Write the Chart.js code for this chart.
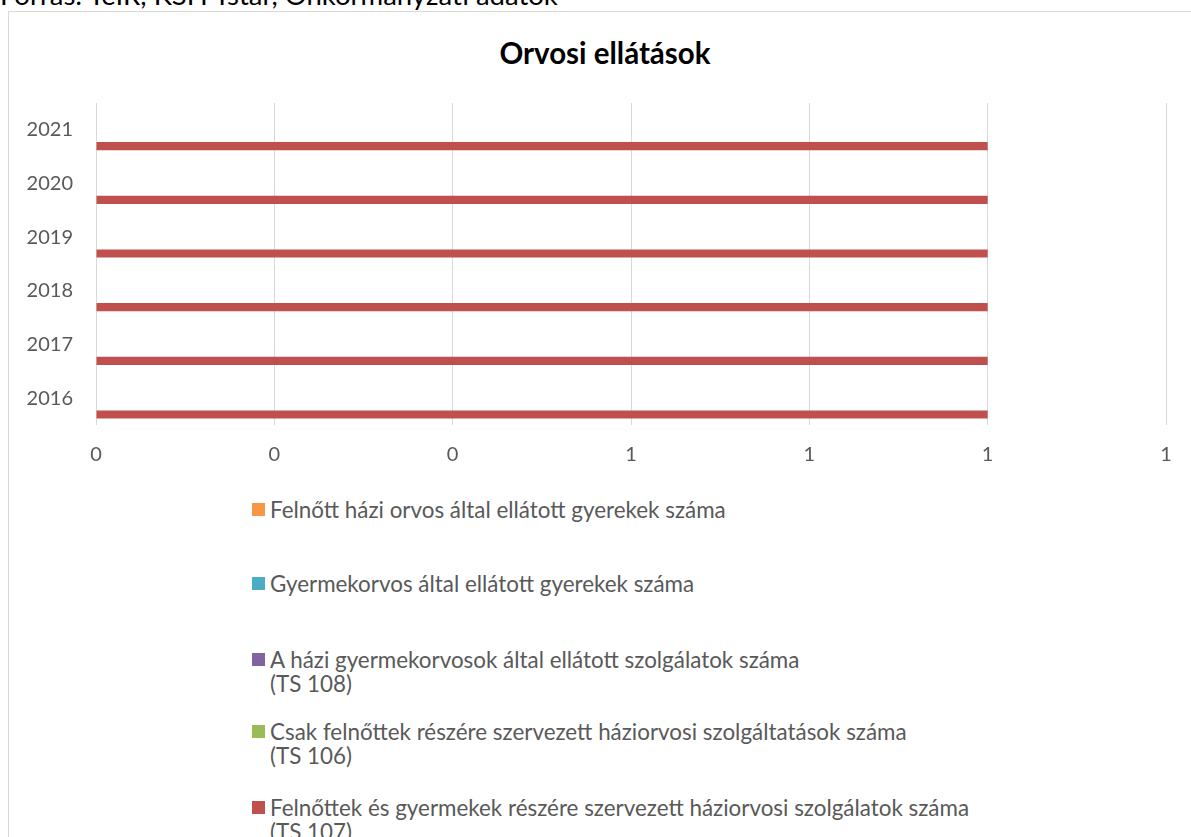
<!DOCTYPE html>
<html>
<head>
<meta charset="utf-8">
<script src="https://cdn.jsdelivr.net/npm/chart.js@4"></script>
<style>
  html, body { margin: 0; padding: 0; background: #fff; overflow: hidden; }
  body { width: 1191px; height: 837px; position: relative; font-family: Lato, "Open Sans", sans-serif; }
  #source { position: absolute; left: 0; top: -21px; font-size: 27.5px; line-height: 32px; color: #000; white-space: nowrap; }
  #frame { position: absolute; left: 8px; top: 11px; width: 1200px; height: 900px; border: 1px solid #d9d9d9; box-sizing: border-box; }
  #title { position: absolute; left: 405px; width: 400px; top: 36px; text-align: center; font-weight: bold; font-size: 29.5px; line-height: 34px; color: #000; }
  #wrap { position: absolute; left: 0; top: 0; width: 1191px; height: 480px; }
  #legend { position: absolute; left: 0; top: 0; }
  .item { position: absolute; left: 252px; font-size: 22.4px; line-height: 24px; color: #595959; white-space: nowrap; }
  .item .box { position: absolute; left: 0; top: 5px; width: 13px; height: 13px; }
  .item .txt { margin-left: 18px; }
</style>
</head>
<body>
<div id="source">Forrás: TeIR, KSH Tstar, Önkormányzati adatok</div>
<div id="frame"></div>
<div id="title">Orvosi ellátások</div>
<div id="wrap"><canvas id="chart" width="1191" height="480"></canvas></div>
<div id="legend"></div>
<script>
const years = ['2016', '2017', '2018', '2019', '2020', '2021'];

const seriesNames = [
    'Felnőtt házi orvos által ellátott gyerekek száma',
    'Gyermekorvos által ellátott gyerekek száma',
    'A házi gyermekorvosok által ellátott szolgálatok száma\n(TS 108)',
    'Csak felnőttek részére szervezett háziorvosi szolgáltatások száma\n(TS 106)',
    'Felnőttek és gyermekek részére szervezett háziorvosi szolgálatok száma\n(TS 107)'
];

const felnottHaziGyerek = [0, 0, 0, 0, 0, 0];
const gyermekorvosGyerek = [0, 0, 0, 0, 0, 0];
const ts108 = [0, 0, 0, 0, 0, 0];
const ts106 = [0, 0, 0, 0, 0, 0];
const ts107 = [1, 1, 1, 1, 1, 1];

const colors = ['#F79646', '#4BACC6', '#8064A2', '#9BBB59', '#C0504D'];

// legend line tops (layout only)
const legendTops = [498, 572, 648, 720, 796];

const allSeries = [felnottHaziGyerek, gyermekorvosGyerek, ts108, ts106, ts107];

const ctx = document.getElementById('chart').getContext('2d');

const dataChart = new Chart(ctx, {
    type: 'bar',
    data: {
        labels: years,
        datasets: allSeries.map((vals, i) => ({
            label: seriesNames[i],
            data: vals,
            backgroundColor: colors[i],
            borderWidth: 0,
            categoryPercentage: 0.76,
            barPercentage: 1.0
        }))
    },
    options: {
        indexAxis: 'y',
        responsive: false,
        animation: false,
        layout: {
            padding: { top: 103, right: 25, bottom: 0, left: 0 }
        },
        scales: {
            x: {
                min: 0,
                max: 1.2,
                ticks: {
                    stepSize: 0.2,
                    padding: 18,
                    color: '#595959',
                    font: { family: 'Lato', size: 20 },
                    callback: v => Math.round(v).toString()
                },
                grid: { color: '#d9d9d9', lineWidth: 1, drawTicks: false },
                border: { display: false },
                afterFit: s => { s.height = 55; }
            },
            y: {
                reverse: true,
                ticks: {
                    padding: 23,
                    color: '#595959',
                    font: { family: 'Lato', size: 20 }
                },
                grid: { display: false, drawTicks: false },
                border: { display: false },
                afterFit: s => { s.width = 96; }
            }
        },
        plugins: {
            legend: { display: false },
            title: { display: false },
            tooltip: { enabled: false }
        }
    }
});

// legend under the chart
const legendDiv = document.getElementById('legend');
seriesNames.forEach((name, i) => {
    let item = document.createElement('div');
    item.className = 'item';
    item.style.top = legendTops[i] + 'px';
    let box = document.createElement('span');
    box.className = 'box';
    box.style.background = colors[i];
    let txt = document.createElement('div');
    txt.className = 'txt';
    txt.innerHTML = name.split('\n').join('<br>');
    item.appendChild(box);
    item.appendChild(txt);
    legendDiv.appendChild(item);
});
</script>
</body>
</html>
